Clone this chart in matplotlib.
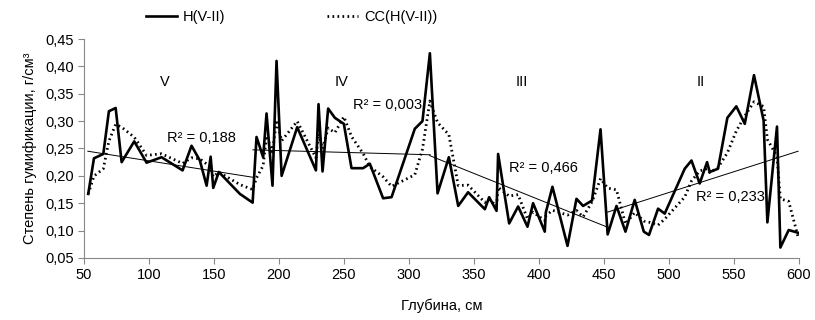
import numpy as np
import pandas as pd
import matplotlib
matplotlib.use("Agg")
from matplotlib import pyplot as plt
from matplotlib.ticker import FuncFormatter

plt.rcParams['font.family'] = ['Liberation Sans', 'DejaVu Sans']

# depth, cm
depth = [53.3, 57.7, 64.9, 69.2, 74.4, 79.0, 88.7, 98.2, 109.7, 125.9, 132.8, 139.2,
         144.4, 147.5, 149.5, 153.8, 170.0, 179.8,
         182.8, 187.9, 190.5, 195.1, 198.2, 202.1, 214.1, 228.5, 230.5, 233.6, 237.9,
         243.1, 250.0, 255.9, 264.8, 270.0, 280.2, 286.7, 304.6, 310.5, 316.2,
         322.1, 330.8, 338.0, 345.6, 358.5, 361.8, 367.5, 368.7, 377.2, 384.1, 391.3,
         395.6, 404.6, 405.4, 410.5, 422.1, 429.0, 434.1, 441.0, 447.5, 453.0,
         459.8, 466.7, 473.8, 480.8, 484.8, 491.8, 496.9, 512.3, 517.5, 523.8, 529.5,
         531.5, 537.9, 545.1, 552.0, 558.5, 565.6, 573.0, 575.9, 583.3, 585.9, 592.3,
         599.5]
# humification degree H
humif = [0.167, 0.232, 0.240, 0.318, 0.324, 0.225, 0.263, 0.224, 0.234, 0.210, 0.255, 0.228,
         0.182, 0.235, 0.178, 0.207, 0.167, 0.151,
         0.271, 0.234, 0.314, 0.182, 0.410, 0.200, 0.289, 0.210, 0.331, 0.208, 0.323,
         0.306, 0.295, 0.214, 0.214, 0.222, 0.159, 0.161, 0.286, 0.300, 0.424,
         0.168, 0.234, 0.145, 0.170, 0.139, 0.161, 0.136, 0.240, 0.113, 0.144, 0.107,
         0.150, 0.098, 0.133, 0.180, 0.072, 0.158, 0.145, 0.155, 0.285, 0.093,
         0.145, 0.098, 0.156, 0.098, 0.092, 0.140, 0.131, 0.213, 0.228, 0.186, 0.225,
         0.207, 0.213, 0.306, 0.327, 0.295, 0.384, 0.301, 0.115, 0.290, 0.069, 0.101,
         0.096]

# horizons and their linear trends (depth range, trend value at both ends)
horizons = ['V', 'IV', 'III', 'II']
trend_x = [(53.0, 181.0), (180.0, 316.5), (316.0, 452.0), (452.0, 599.5)]
trend_y = [(0.245, 0.197), (0.2475, 0.2385), (0.237, 0.107), (0.133, 0.245)]
r2_labels = ['R² = 0,188', 'R² = 0,003', 'R² = 0,466', 'R² = 0,233']

x = np.array(depth)
y = np.array(humif)
ma = pd.Series(y).rolling(3, min_periods=1).mean()

fig = plt.figure(figsize=(8.15, 3.2), dpi=100)
ax = fig.add_axes([0.103, 0.194, 0.877, 0.684])

ax.plot(x, y, color='black', lw=1.9, label='H(V-II)')
ax.plot(x, ma, color='black', lw=2.0, ls=(0, (0.6, 1.2)), label='CC(H(V-II))')

for tx, ty in zip(trend_x, trend_y):
    ax.plot(tx, ty, color='black', lw=0.7)

# labels
hor_pos = [(112, 0.371), (248, 0.371), (387, 0.371), (525, 0.371)]
for name, (hx, hy) in zip(horizons, hor_pos):
    ax.text(hx, hy, name, fontsize=10.5, ha='center', va='center')
r2_pos = [(114, 0.27), (257, 0.329), (377, 0.215), (521, 0.162)]
for lab, (rx, ry) in zip(r2_labels, r2_pos):
    ax.text(rx, ry, lab, fontsize=10.5, ha='left', va='center')

ax.set_xlim(50, 600)
ax.set_ylim(0.05, 0.45)
ax.set_xticks(np.arange(50, 601, 50))
ax.set_yticks(np.arange(0.05, 0.451, 0.05))
ax.yaxis.set_major_formatter(FuncFormatter(lambda v, p: f"{v:.2f}".replace('.', ',')))
ax.tick_params(labelsize=10.5, color='#888888', length=4)
for s in ['top', 'right']:
    ax.spines[s].set_visible(False)
for s in ['left', 'bottom']:
    ax.spines[s].set_color('#888888')
ax.set_xlabel('Глубина, см', fontsize=10.5, labelpad=12)
ax.set_ylabel('Степень гумификации, г/см³', fontsize=10.5, labelpad=6)

fig.legend(loc='upper center', bbox_to_anchor=(0.358, 1.01), ncol=2, frameon=False,
           fontsize=10.5, columnspacing=7.0, handlelength=2.1, handletextpad=0.4)

fig.savefig('out.png', dpi=100)
